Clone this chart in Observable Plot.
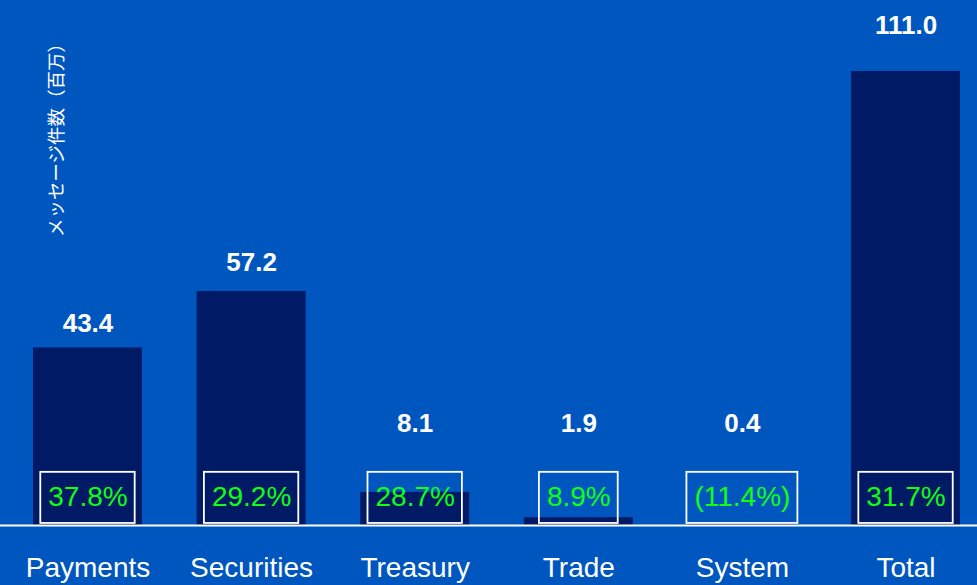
<!DOCTYPE html>
<html><head><meta charset="utf-8">
<script src="https://cdn.jsdelivr.net/npm/d3@7"></script>
<script src="https://cdn.jsdelivr.net/npm/@observablehq/plot@0.6"></script>
<style>
html,body{margin:0;padding:0;background:#0056bf;overflow:hidden;}
#chart svg{display:block}
</style>
</head><body><div id="chart"></div>
<script>
const categories = ["Payments", "Securities", "Treasury", "Trade", "System", "Total"];
const values = [43.4, 57.2, 8.1, 1.9, 0.4, 111.0];
const growth = ["37.8%", "29.2%", "28.7%", "8.9%", "(11.4%)", "31.7%"];
const yLabel = "メッセージ件数（百万）";

const data = categories.map((c, i) => ({cat: c, value: values[i], pct: growth[i]}));

const FONT = "'Liberation Sans', Arial, Helvetica, sans-serif";
const ctx = document.createElement("canvas").getContext("2d");
ctx.font = "28px 'Liberation Sans'";

const W = 977, H = 585;
const bandwidth = (960 - 33) / (6 - 0.334) * (1 - 0.334);

const boxMarks = data.map(d => {
  const w = ctx.measureText(d.pct).width + 15;
  const ins = (bandwidth - w) / 2;
  return Plot.barY([d], {
    x: "cat", y1: () => 0.5, y2: () => 13.0,
    fill: "none", stroke: "white", strokeWidth: 1.8,
    insetLeft: ins, insetRight: ins
  });
});

const chart = Plot.plot({
  width: W, height: H,
  marginLeft: 0, marginRight: 0, marginTop: 71, marginBottom: 60,
  style: {background: "transparent", color: "white", fontFamily: FONT},
  x: {domain: categories, range: [33, 960], paddingInner: 0.334, paddingOuter: 0, round: false, label: null},
  y: {domain: [0, 111], axis: null},
  marks: [
    Plot.barY(data, {x: "cat", y: "value", fill: "#001a66"}),
    Plot.ruleY([0], {stroke: "white", strokeWidth: 2}),
    ...boxMarks,
    Plot.text(data, {x: "cat", y: () => 6.9, text: "pct", fill: "#11ff11", fontSize: 28, lineAnchor: "middle"}),
    Plot.text(data, {x: "cat", y: d => Math.max(d.value * 1.08 + 2.4, 25), text: d => d.value.toFixed(1),
      fill: "white", fontSize: 26, fontWeight: "bold", lineAnchor: "middle"}),
    Plot.axisX({tickSize: 0, tickPadding: 32, fontSize: 28, label: null, fill: "white"}),
    Plot.text([yLabel], {frameAnchor: "top-left", dx: 57, dy: 64, rotate: -90, text: d => d,
      fill: "white", fontSize: 18.5, fontFamily: "'Noto Sans CJK JP', sans-serif", textAnchor: "middle", lineAnchor: "middle"})
  ]
});
document.getElementById("chart").appendChild(chart);
</script></body></html>
